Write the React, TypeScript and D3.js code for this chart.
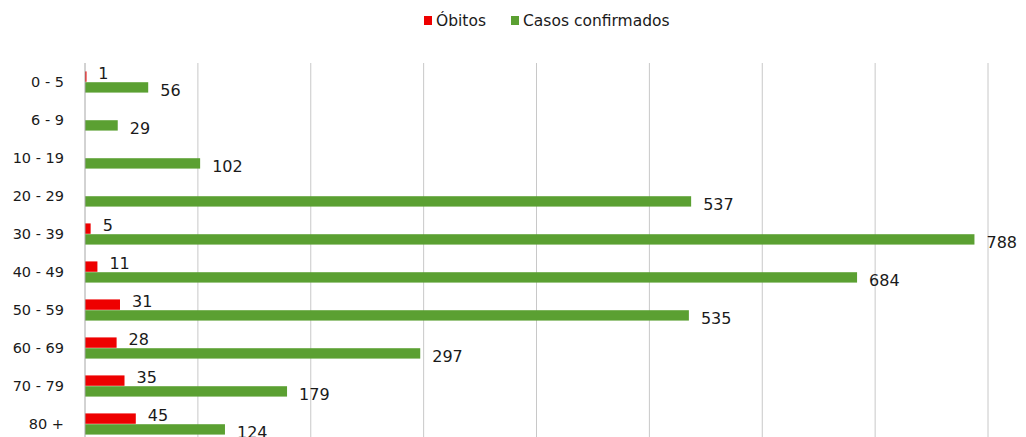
import React from "react";
import * as d3 from "d3";

const categories = ["0 - 5", "6 - 9", "10 - 19", "20 - 29", "30 - 39", "40 - 49", "50 - 59", "60 - 69", "70 - 79", "80 +"];
const obitos = [1, 0, 0, 0, 5, 11, 31, 28, 35, 45];
const casos = [56, 29, 102, 537, 788, 684, 535, 297, 179, 124];
const seriesNames = ["Óbitos", "Casos confirmados"];
const seriesColors = ["#ee0000", "#5ba032"];
const xTicks = [0, 100, 200, 300, 400, 500, 600, 700, 800];

const W = 1026;
const H = 437;
const FONT = "'DejaVu Sans', Verdana, sans-serif";

export default function App() {
  const x = d3.scaleLinear().domain([0, 800]).range([85, 988]);
  const y = d3.scaleBand<string>().domain(categories).range([63, 443]).paddingInner(0.42).paddingOuter(0.21);
  const inner = d3.scaleBand<string>().domain(["o", "c"]).range([0, y.bandwidth()]).padding(0.04);
  const series = [
    { key: "o", values: obitos, color: seriesColors[0], dy: -3 },
    { key: "c", values: casos, color: seriesColors[1], dy: 3 },
  ];
  return (
    <svg width={W} height={H} style={{ position: "absolute", left: 0, top: 0, background: "#fff" }} fontFamily={FONT}>
      {xTicks.slice(1).map((t) => (
        <line key={t} x1={x(t)} x2={x(t)} y1={63} y2={H} stroke="#c8c8c8" strokeWidth={1} />
      ))}
      {series.map((s) =>
        categories.map((c, i) => {
          const v = s.values[i];
          if (s.key === "o" && v === 0) return null;
          const by = (y(c) as number) + (inner(s.key) as number);
          const bh = inner.bandwidth();
          return (
            <g key={s.key + c}>
              <rect x={x(0)} y={by} width={Math.max(x(v) - x(0), 1.5)} height={bh} fill={s.color} />
              <text x={x(v) + 12} y={by + bh / 2 + s.dy} dominantBaseline="central" fontSize={16} fill="#1a1a1a">
                {v}
              </text>
            </g>
          );
        })
      )}
      <line x1={x(0)} x2={x(0)} y1={63} y2={H} stroke="#a6a6a6" strokeWidth={1} />
      {categories.map((c) => (
        <text key={c} x={64} y={(y(c) as number) + y.bandwidth() / 2} textAnchor="end" dominantBaseline="central" fontSize={14.5} fill="#1a1a1a">
          {c}
        </text>
      ))}
      <g>
        <rect x={424} y={16} width={8} height={9} fill={seriesColors[0]} />
        <text x={436} y={21} dominantBaseline="central" fontSize={15.5} fill="#1a1a1a">{seriesNames[0]}</text>
        <rect x={511} y={16} width={8} height={9} fill={seriesColors[1]} />
        <text x={523} y={21} dominantBaseline="central" fontSize={15.5} fill="#1a1a1a">{seriesNames[1]}</text>
      </g>
    </svg>
  );
}
